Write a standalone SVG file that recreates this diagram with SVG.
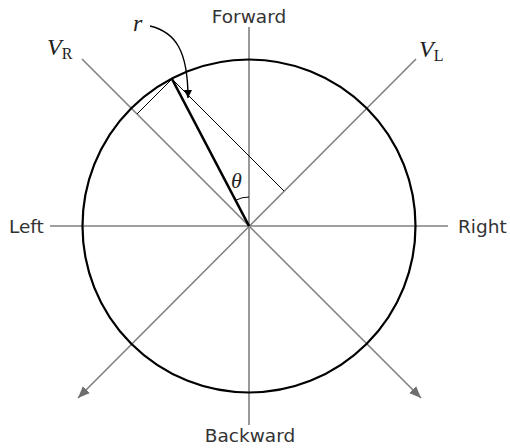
<svg xmlns="http://www.w3.org/2000/svg" width="510" height="448" viewBox="0 0 510 448">
<style>
.axis{stroke:#808080;stroke-width:1.6;fill:none}
.thin{stroke:#000;stroke-width:1;fill:none}
.lbl{font-family:"DejaVu Sans",sans-serif;font-size:18.5px;fill:#333}
.math{font-family:"Liberation Serif","DejaVu Serif",serif;font-style:italic;fill:#222}
.sub{font-family:"Liberation Serif","DejaVu Serif",serif;font-style:normal;fill:#222}
</style>
<defs>
<marker id="ag" markerUnits="userSpaceOnUse" markerWidth="14" markerHeight="12" refX="12" refY="5" orient="auto">
<path d="M0,0 L12,5 L0,10 z" fill="#6e6e6e"/>
</marker>
<marker id="ab" markerUnits="userSpaceOnUse" markerWidth="10" markerHeight="10" refX="8" refY="4" orient="auto">
<path d="M0,0 L8,4 L0,8 z" fill="#000"/>
</marker>
</defs>
<g id="connectors">
<line class="axis" x1="249" y1="27" x2="249" y2="425"/>
<line class="axis" x1="50" y1="226" x2="448" y2="226"/>
<line class="axis" x1="82" y1="59" x2="421" y2="398" marker-end="url(#ag)"/>
<line class="axis" x1="416" y1="59" x2="78" y2="398" marker-end="url(#ag)"/>
<line class="thin" x1="172" y1="79" x2="284" y2="191"/>
<line class="thin" x1="172" y1="79" x2="137" y2="114"/>
<line x1="249" y1="226" x2="172" y2="79" stroke="#000" stroke-width="2.6"/>
<path class="thin" d="M249,197 A29,29 0 0,0 235.5,200.3"/>
<path d="M150,26 C175,32 188,50 188,98" stroke="#000" stroke-width="1.4" fill="none" marker-end="url(#ab)"/>
</g>
<g id="circle">
<circle cx="249" cy="226" r="166.5" fill="none" stroke="#000" stroke-width="2.2"/>
</g>
<g id="forward"><text class="lbl" x="249" y="23" text-anchor="middle">Forward</text></g>
<g id="backward"><text class="lbl" x="250" y="442" text-anchor="middle">Backward</text></g>
<g id="left"><text class="lbl" x="9" y="233">Left</text></g>
<g id="right"><text class="lbl" x="458" y="233">Right</text></g>
<g id="vr"><text x="47" y="55"><tspan class="math" font-size="24">V</tspan><tspan class="sub" font-size="16" dy="4">R</tspan></text></g>
<g id="vl"><text x="419" y="57"><tspan class="math" font-size="24">V</tspan><tspan class="sub" font-size="16" dy="4">L</tspan></text></g>
<g id="r"><text class="math" x="133" y="31" font-size="24">r</text></g>
<g id="theta"><text class="math" x="231" y="188" font-size="22">θ</text></g>
</svg>
